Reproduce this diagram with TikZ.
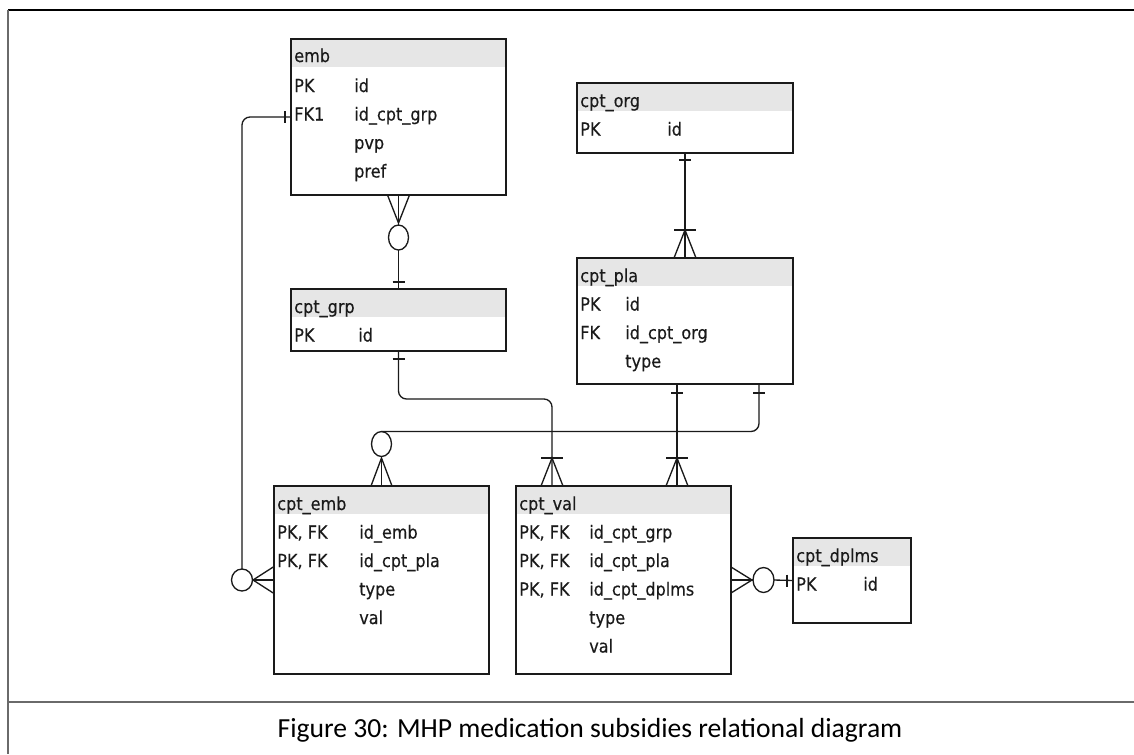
\documentclass[tikz,border=0pt]{standalone}
\usepackage{fontspec}
\newfontfamily\tbfont[FakeBold=0.35]{DejaVu Sans Condensed}
\newfontfamily\capfont{Carlito}
\usetikzlibrary{calc,shapes.geometric}
\definecolor{hdrgray}{HTML}{E6E6E6}
\definecolor{ln}{HTML}{1A1A1A}
\definecolor{frm}{HTML}{6A6A6A}
\begin{document}
\begin{tikzpicture}[x=0.75pt,y=-0.75pt,
  tbl/.style={draw=ln, line width=1.1pt, anchor=north west, inner sep=0pt, outer sep=0pt,
    path picture={\fill[hdrgray] (path picture bounding box.north west) rectangle ([yshift=-21pt]path picture bounding box.north east);}},
  lbl/.style={anchor=base west, inner sep=0pt, text=ln, font=\tbfont\fontsize{13.4pt}{15pt}\selectfont},
  conn/.style={draw=ln, line width=1pt},
  circ/.style={ellipse, draw=ln, line width=1pt, inner sep=0pt, outer sep=0pt, minimum width=15pt, minimum height=18.75pt}]
\useasboundingbox (0,0) rectangle (1134,754);
\fill[white] (0,0) rectangle (1134,754);
% frame
\draw[line width=1.1pt, draw=black] (8,10) -- (1134,10);
\draw[line width=1.4pt, draw=frm] (8,10) -- (8,754);
\draw[line width=1.4pt, draw=frm] (8,702) -- (1134,702);

% tables
\node[tbl, minimum width=161.25pt, minimum height=117pt] (emb) at (291,39) {};
\node[lbl] (emb-t) at (294,62) {emb};
\node[lbl] (emb-k1) at (294,92) {PK};
\node[lbl] (emb-f1) at (354,92) {id};
\node[lbl] (emb-k2) at (294,120.5) {FK1};
\node[lbl] (emb-f2) at (354,120.5) {id\_cpt\_grp};
\node[lbl] (emb-f3) at (354,149) {pvp};
\node[lbl] (emb-f4) at (354,177.5) {pref};

\node[tbl, minimum width=162pt, minimum height=52.5pt] (org) at (577,83) {};
\node[lbl] (org-t) at (580,107) {cpt\_org};
\node[lbl] (org-k1) at (580,135.5) {PK};
\node[lbl] (org-f1) at (667,135.5) {id};

\node[tbl, minimum width=162pt, minimum height=94.5pt] (pla) at (577,258) {};
\node[lbl] (pla-t) at (580,282) {cpt\_pla};
\node[lbl] (pla-k1) at (580,310.5) {PK};
\node[lbl] (pla-f1) at (625,310.5) {id};
\node[lbl] (pla-k2) at (580,339) {FK};
\node[lbl] (pla-f2) at (625,339) {id\_cpt\_org};
\node[lbl] (pla-f3) at (625,367.5) {type};

\node[tbl, minimum width=161.25pt, minimum height=46.5pt] (grp) at (291,289) {};
\node[lbl] (grp-t) at (294,313) {cpt\_grp};
\node[lbl] (grp-k1) at (294,341.5) {PK};
\node[lbl] (grp-f1) at (358,341.5) {id};

\node[tbl, minimum width=161.25pt, minimum height=141pt] (cemb) at (274,486) {};
\node[lbl] (cemb-t) at (277,510) {cpt\_emb};
\node[lbl] (cemb-k1) at (277,538.5) {PK, FK};
\node[lbl] (cemb-f1) at (359,538.5) {id\_emb};
\node[lbl] (cemb-k2) at (277,567) {PK, FK};
\node[lbl] (cemb-f2) at (359,567) {id\_cpt\_pla};
\node[lbl] (cemb-f3) at (359,595.5) {type};
\node[lbl] (cemb-f4) at (359,624) {val};

\node[tbl, minimum width=161.25pt, minimum height=141pt] (val) at (516,486) {};
\node[lbl] (val-t) at (519,510) {cpt\_val};
\node[lbl] (val-k1) at (519,538.5) {PK, FK};
\node[lbl] (val-f1) at (589,538.5) {id\_cpt\_grp};
\node[lbl] (val-k2) at (519,567) {PK, FK};
\node[lbl] (val-f2) at (589,567) {id\_cpt\_pla};
\node[lbl] (val-k3) at (519,595.5) {PK, FK};
\node[lbl] (val-f3) at (589,595.5) {id\_cpt\_dplms};
\node[lbl] (val-f4) at (589,624) {type};
\node[lbl] (val-f5) at (589,652.5) {val};

\node[tbl, minimum width=88.5pt, minimum height=63.75pt] (dpl) at (793,538) {};
\node[lbl] (dpl-t) at (796,562) {cpt\_dplms};
\node[lbl] (dpl-k1) at (796,590.5) {PK};
\node[lbl] (dpl-f1) at (863,590.5) {id};

% A: emb -> cpt_grp
\node[circ] (cA) at ($(emb.south)+(0,42.5)$) {};
\draw[conn] (emb.south) -- (cA.north);
\draw[conn] (cA.south) -- (grp.north);
\draw[conn] ($(emb.south)+(-11,0)$) -- ($(emb.south)+(0,28)$) -- ($(emb.south)+(11,0)$);
\draw[conn] ($(grp.north)+(-6,-7)$) -- ++(12,0);

% B: emb FK1 -> cpt_emb
\node[circ, minimum width=15.75pt, minimum height=16.5pt] (cB) at (242,580) {};
\draw[conn, rounded corners=6pt] (emb.west) -| (cB.north);
\draw[conn] (cB.east) -- (cemb.west);
\draw[conn] ($(cemb.west)+(0,-13.5)$) -- ($(cemb.west)+(-21,0)$) -- ($(cemb.west)+(0,13.5)$);
\draw[conn] ($(emb.west)+(-6,-6)$) -- ++(0,12);

% C: cpt_org -> cpt_pla
\draw[conn] (org.south) -- (pla.north);
\draw[conn] ($(org.south)+(-6,7)$) -- ++(12,0);
\draw[conn] ($(pla.north)+(-11,0)$) -- ($(pla.north)+(0,-28)$) -- ($(pla.north)+(11,0)$);
\draw[conn] ($(pla.north)+(-11,-28)$) -- ++(22,0);

% D: cpt_grp -> cpt_val
\coordinate (dTop) at ($(val.north west)+(36,0)$);
\draw[conn, rounded corners=6pt] (grp.south) -- ($(grp.south)+(0,48)$) -| (dTop);
\draw[conn] ($(grp.south)+(-6,8)$) -- ++(12,0);
\draw[conn] ($(dTop)+(-11,0)$) -- ($(dTop)+(0,-28)$) -- ($(dTop)+(11,0)$);
\draw[conn] ($(dTop)+(-11,-28)$) -- ++(22,0);

% E: cpt_pla -> cpt_val
\coordinate (eTop) at ($(pla.south west)+(100,0)$);
\coordinate (eBot) at ($(val.north west)+(161,0)$);
\draw[conn] (eTop) -- (eBot);
\draw[conn] ($(eTop)+(-6,9)$) -- ++(12,0);
\draw[conn] ($(eBot)+(-11,0)$) -- ($(eBot)+(0,-28)$) -- ($(eBot)+(11,0)$);
\draw[conn] ($(eBot)+(-11,-28)$) -- ++(22,0);

% F: cpt_pla -> cpt_emb
\coordinate (fTop) at ($(pla.south west)+(182,0)$);
\node[circ] (cF) at ($(cemb.north)+(0,-42)$) {};
\draw[conn, rounded corners=6pt] (fTop) |- (cF.north);
\draw[conn] (cF.south) -- (cemb.north);
\draw[conn] ($(fTop)+(-6,9)$) -- ++(12,0);
\draw[conn] ($(cemb.north)+(-10.5,0)$) -- ($(cemb.north)+(0,-28)$) -- ($(cemb.north)+(10.5,0)$);

% G: cpt_val -> cpt_dplms
\node[circ, minimum width=15.75pt] (cG) at ($(val.east)+(32.5,0)$) {};
\draw[conn] (val.east) -- (cG.west);
\draw[conn] (cG.east) -- (dpl.west);
\draw[conn] ($(val.east)+(0,-13)$) -- ($(val.east)+(21,0)$) -- ($(val.east)+(0,13)$);
\draw[conn] ($(dpl.west)+(-6,-6)$) -- ++(0,12);

% caption
\node[anchor=base, inner sep=0pt, text=black, font=\capfont\fontsize{20.7pt}{24pt}\selectfont] (cap) at (590,737) {Figure 30: MHP medication subsidies relational diagram};
\end{tikzpicture}
\end{document}
